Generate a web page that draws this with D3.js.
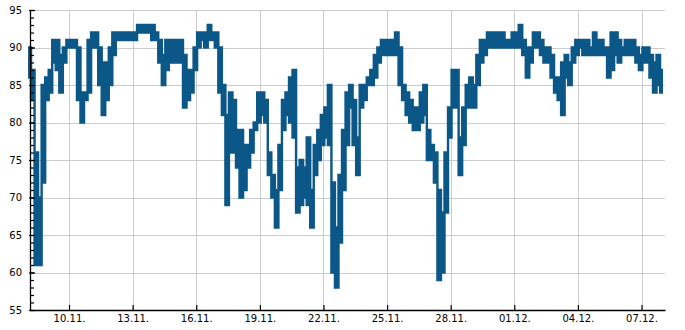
<!DOCTYPE html>
<html><head><meta charset="utf-8">
<script src="https://cdn.jsdelivr.net/npm/d3@7/dist/d3.min.js"></script>
<style>body{margin:0;background:#fff}svg{display:block}text{font-family:"DejaVu Sans",sans-serif;font-size:10px;fill:#000}</style>
</head><body><svg id="c" width="685" height="330"></svg>
<script>
// 4-hour buckets starting 08.11. 03:00 — max and min reading of each bucket
const startTime = "2022-11-08T03:00";
const bucketHours = 4;
const hiValues = [90,87,76,70,85,86,87,91,91,89,90,91,91,91,90,84,84,91,92,92,
  90,88,88,90,92,92,92,92,92,92,92,93,93,93,93,93,92,91,89,91,
  91,91,91,91,89,87,87,90,92,92,92,93,92,92,90,85,81,84,83,79,
  79,77,77,79,80,84,84,83,76,73,71,77,83,84,86,87,74,75,74,78,
  71,77,79,81,82,85,72,66,73,79,84,85,83,78,85,85,86,87,89,90,
  91,91,91,91,92,90,85,84,83,82,82,84,85,79,77,76,71,68,76,82,
  87,87,78,82,85,86,85,89,91,91,92,92,92,92,92,91,91,92,92,93,
  91,90,90,92,92,91,90,90,89,86,86,88,89,88,90,91,91,91,91,90,
  92,91,91,90,90,92,92,91,90,91,91,91,90,89,90,90,89,88,89,87];
const loValues = [86,83,61,61,72,83,84,88,87,84,88,90,90,90,83,80,83,84,90,90,
  85,81,83,85,89,91,91,91,91,91,91,92,92,92,92,91,91,88,85,87,
  88,88,88,88,82,83,84,87,90,91,90,91,91,90,84,81,69,76,76,74,
  70,71,74,76,79,80,81,80,73,70,66,71,79,81,80,78,68,69,70,69,
  66,73,75,77,78,77,60,58,64,71,77,82,77,73,82,83,85,85,86,88,
  89,89,89,89,89,85,83,81,80,79,79,80,81,75,75,72,59,60,68,78,
  82,82,73,77,82,82,82,85,88,89,90,90,90,90,90,90,90,90,90,90,
  89,86,88,90,90,89,88,88,86,84,83,81,86,85,88,89,90,89,89,89,
  89,89,89,89,86,87,89,88,89,89,89,89,88,87,88,88,86,84,85,84];
const xTickLabels = ["10.11.","13.11.","16.11.","19.11.","22.11.","25.11.","28.11.","01.12.","04.12.","07.12."];
const xTickDates = ["2022-11-10","2022-11-13","2022-11-16","2022-11-19","2022-11-22","2022-11-25","2022-11-28","2022-12-01","2022-12-04","2022-12-07"];
const yTicks = [55,60,65,70,75,80,85,90,95];
const yDomain = [55,95];
const xDomain = ["2022-11-08T03:50","2022-12-08T02:35"];

const parse = s => new Date(s);
const t0 = parse(startTime);
const data = hiValues.map((h,i)=>({t:d3.timeHour.offset(t0,i*bucketHours),hi:h,lo:loValues[i]}));

const svg = d3.select("#c");
const L=30,R=665,T=10,B=310;
const x = d3.scaleTime().domain(xDomain.map(parse)).range([L,R]);
const y = d3.scaleLinear().domain(yDomain).range([B,T]);
const grid="#cccccc";

// grid
svg.append("g").selectAll("line.h").data(yTicks).join("line")
  .attr("x1",L).attr("x2",R).attr("y1",d=>Math.round(y(d))+0.5).attr("y2",d=>Math.round(y(d))+0.5)
  .attr("stroke",grid).attr("stroke-width",1);
const xd = xTickDates.map(d=>parse(d+"T00:00"));
svg.append("g").selectAll("line.v").data(xd).join("line")
  .attr("x1",d=>Math.round(x(d))+0.5).attr("x2",d=>Math.round(x(d))+0.5).attr("y1",T).attr("y2",B)
  .attr("stroke",grid).attr("stroke-width",1);

// series band
const area = d3.area().curve(d3.curveStep).x(d=>x(d.t)).y0(d=>y(d.lo)).y1(d=>y(d.hi));
svg.append("path").datum(data).attr("d",area)
  .attr("fill","#0b5787").attr("stroke","#0b5787").attr("stroke-width",2.4).attr("stroke-linejoin","miter");

// y axis
const minor = d3.range(yDomain[0], yDomain[1]+1, 1);
const ya = svg.append("g").attr("transform",`translate(${L},0)`)
  .call(d3.axisLeft(y).tickValues(minor).tickSize(-4).tickFormat(""));
ya.select(".domain").remove();
const yb = svg.append("g").attr("transform",`translate(${L},0)`)
  .call(d3.axisLeft(y).tickValues(yTicks).tickSizeInner(-5).tickSizeOuter(0).tickPadding(8).tickFormat(d3.format("d")));
yb.selectAll(".tick line").attr("x1",-1);
// x axis
const xa = svg.append("g").attr("transform",`translate(0,${B})`)
  .call(d3.axisBottom(x).tickValues(xd).tickSizeInner(-5).tickSizeOuter(0).tickPadding(5).tickFormat((d,i)=>xTickLabels[i]));
svg.selectAll(".domain").attr("stroke","#000").attr("stroke-width",1.3);
svg.selectAll(".tick line").attr("stroke","#000").attr("stroke-width",1.2);
svg.selectAll(".tick text").style("font-family","'DejaVu Sans',sans-serif").style("font-size","10px").attr("fill","#000");
</script></body></html>
